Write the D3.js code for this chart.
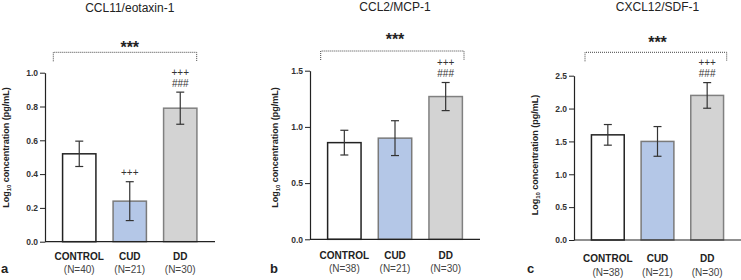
<!DOCTYPE html>
<html>
<head>
<meta charset="utf-8">
<script src="https://cdn.jsdelivr.net/npm/d3@7"></script>
<style>
  body { margin: 0; background: #fff; }
  svg { display: block; font-family: "Liberation Sans", Arial, sans-serif; }
</style>
</head>
<body>
<div id="chart"></div>
<script>
// groups and labels
var groups = ["CONTROL", "CUD", "DD"];
var titles = ["CCL11/eotaxin-1", "CCL2/MCP-1", "CXCL12/SDF-1"];
var letters = ["a", "b", "c"];

// panel a - CCL11/eotaxin-1
var nA = ["(N=40)", "(N=21)", "(N=30)"];
var meanA = [0.52, 0.24, 0.79];
var errA = [0.075, 0.115, 0.095];
var ticksA = [0, 0.2, 0.4, 0.6, 0.8, 1.0];
var marksA = [[], ["+++"], ["+++", "###"]];

// panel b - CCL2/MCP-1
var nB = ["(N=38)", "(N=21)", "(N=30)"];
var meanB = [0.86, 0.90, 1.27];
var errB = [0.11, 0.155, 0.125];
var ticksB = [0, 0.5, 1.0, 1.5];
var marksB = [[], [], ["+++", "###"]];

// panel c - CXCL12/SDF-1
var nC = ["(N=38)", "(N=21)", "(N=30)"];
var meanC = [1.60, 1.50, 2.20];
var errC = [0.157, 0.226, 0.195];
var ticksC = [0, 0.5, 1.0, 1.5, 2.0, 2.5];
var marksC = [[], [], ["+++", "###"]];

var panels = [
    { title: titles[0], letter: letters[0], n: nA, mean: meanA, err: errA, ticks: ticksA, marks: marksA },
    { title: titles[1], letter: letters[1], n: nB, mean: meanB, err: errB, ticks: ticksB, marks: marksB },
    { title: titles[2], letter: letters[2], n: nC, mean: meanC, err: errC, ticks: ticksC, marks: marksC }
];

// layout of each panel (pixels)
var layout = [
    { ax: 45, axEnd: 215, bandL: 54, bandR: 205.5, y0: 241.7, yTop: 72.7, titleY: 12, starY: 51.5,
      brY: 52.3, brL: 53.3, brR: 196.7, labY: 260, nY: 272.5, letX: 1, letY: 272.7, ylabX: 8.5, ylabY: 147.5 },
    { ax: 310, axEnd: 480, bandL: 319, bandR: 471, y0: 239.3, yTop: 70.7, titleY: 11, starY: 44.3,
      brY: 51, brL: 320.7, brR: 464, labY: 259.3, nY: 272, letX: 270, letY: 273.3, ylabX: 277.5, ylabY: 147.5 },
    { ax: 574, axEnd: 741, bandL: 583, bandR: 732, y0: 240, yTop: 75.7, titleY: 11, starY: 46.5,
      brY: 52.3, brL: 585, brR: 726.7, labY: 261.5, nY: 276, letX: 527, letY: 273.3, ylabX: 537.5, ylabY: 155 }
];

var fills = ["#ffffff", "#b4c7e7", "#d3d3d3"];
var strokes = ["#222222", "#7a7a7a", "#808080"];

var svg = d3.select("#chart")
    .append("svg")
    .attr("width", 741)
    .attr("height", 280);

panels.forEach(function (p, i) {
    var L = layout[i];
    var g = svg.append("g");

    var x = d3.scaleBand()
        .domain(groups)
        .range([L.bandL, L.bandR])
        .paddingInner(0.34)
        .paddingOuter(0.17);

    var y = d3.scaleLinear()
        .domain([0, p.ticks[p.ticks.length - 1]])
        .range([L.y0, L.yTop]);

    // bars
    g.selectAll("rect.bar")
        .data(groups)
        .enter().append("rect")
        .attr("class", "bar")
        .attr("x", function (d) { return x(d); })
        .attr("width", x.bandwidth())
        .attr("y", function (d, j) { return y(p.mean[j]); })
        .attr("height", function (d, j) { return L.y0 - y(p.mean[j]); })
        .attr("fill", function (d, j) { return fills[j]; })
        .attr("stroke", function (d, j) { return strokes[j]; })
        .attr("stroke-width", 1.5);

    // error bars
    var eb = g.selectAll("g.err")
        .data(groups)
        .enter().append("g")
        .attr("class", "err")
        .attr("stroke", "#333")
        .attr("stroke-width", 1.2);
    eb.append("line")
        .attr("x1", function (d) { return x(d) + x.bandwidth() / 2; })
        .attr("x2", function (d) { return x(d) + x.bandwidth() / 2; })
        .attr("y1", function (d, j) { return y(p.mean[j] + p.err[j]); })
        .attr("y2", function (d, j) { return y(p.mean[j] - p.err[j]); });
    [1, -1].forEach(function (s) {
        eb.append("line")
            .attr("x1", function (d) { return x(d) + x.bandwidth() / 2 - 4; })
            .attr("x2", function (d) { return x(d) + x.bandwidth() / 2 + 4; })
            .attr("y1", function (d, j) { return y(p.mean[j] + s * p.err[j]); })
            .attr("y2", function (d, j) { return y(p.mean[j] + s * p.err[j]); });
    });

    // significance marks above error bars
    groups.forEach(function (grp, j) {
        var top = y(p.mean[j] + p.err[j]);
        var m = p.marks[j];
        m.forEach(function (t, k) {
            g.append("text")
                .attr("x", x(grp) + x.bandwidth() / 2)
                .attr("y", top - 5.5 - (m.length - 1 - k) * 11)
                .attr("text-anchor", "middle")
                .attr("font-size", 10)
                .attr("fill", "#333")
                .text(t);
        });
    });

    // y axis
    var yAxis = g.append("g")
        .attr("transform", "translate(" + L.ax + ",0)")
        .call(d3.axisLeft(y).tickValues(p.ticks).tickFormat(d3.format(".1f")).tickSize(5).tickSizeOuter(0).tickPadding(2));
    yAxis.select(".domain").attr("stroke", "#222").attr("stroke-width", 1.2);
    yAxis.selectAll(".tick line").attr("stroke", "#222");
    yAxis.selectAll(".tick text")
        .attr("font-family", "Liberation Sans, Arial, sans-serif")
        .attr("font-size", 8.5)
        .attr("font-weight", "bold")
        .attr("fill", "#333");

    // x axis line
    g.append("line")
        .attr("x1", L.ax).attr("x2", L.axEnd)
        .attr("y1", L.y0).attr("y2", L.y0)
        .attr("stroke", "#222").attr("stroke-width", 1.2);

    // group labels
    g.selectAll("text.grp")
        .data(groups)
        .enter().append("text")
        .attr("class", "grp")
        .attr("x", function (d) { return x(d) + x.bandwidth() / 2; })
        .attr("y", L.labY)
        .attr("text-anchor", "middle")
        .attr("font-size", 10)
        .attr("font-weight", "bold")
        .attr("fill", "#222")
        .text(function (d) { return d; });
    g.selectAll("text.nn")
        .data(p.n)
        .enter().append("text")
        .attr("class", "nn")
        .attr("x", function (d, j) { return x(groups[j]) + x.bandwidth() / 2; })
        .attr("y", L.nY)
        .attr("text-anchor", "middle")
        .attr("font-size", 10)
        .attr("fill", "#444")
        .text(function (d) { return d; });

    // title
    var cx = x("CUD") + x.bandwidth() / 2;
    g.append("text")
        .attr("x", cx)
        .attr("y", L.titleY)
        .attr("text-anchor", "middle")
        .attr("font-size", 12)
        .attr("fill", "#222")
        .text(p.title);

    // bracket and stars
    g.append("path")
        .attr("d", "M" + L.brL + "," + (L.brY + 9) + "V" + L.brY + "H" + L.brR + "V" + (L.brY + 9))
        .attr("fill", "none")
        .attr("stroke", "#444")
        .attr("stroke-width", 1)
        .attr("stroke-dasharray", "1,1");
    g.append("text")
        .attr("x", cx)
        .attr("y", L.starY + 1)
        .attr("text-anchor", "middle")
        .attr("font-size", 16)
        .attr("font-weight", "bold")
        .attr("fill", "#222")
        .text("***");

    // y label
    var yl = g.append("text")
        .attr("transform", "translate(" + L.ylabX + "," + L.ylabY + ") rotate(-90)")
        .attr("text-anchor", "middle")
        .attr("font-size", 9)
        .attr("font-weight", "bold")
        .attr("fill", "#222");
    yl.append("tspan").text("Log");
    yl.append("tspan").attr("font-size", 6).attr("dy", 2).text("10");
    yl.append("tspan").attr("dy", -2).text(" concentration (pg/mL)");

    // panel letter
    g.append("text")
        .attr("x", L.letX)
        .attr("y", L.letY)
        .attr("font-size", 13)
        .attr("font-weight", "bold")
        .attr("fill", "#222")
        .text(p.letter);
});
</script>
</body>
</html>
